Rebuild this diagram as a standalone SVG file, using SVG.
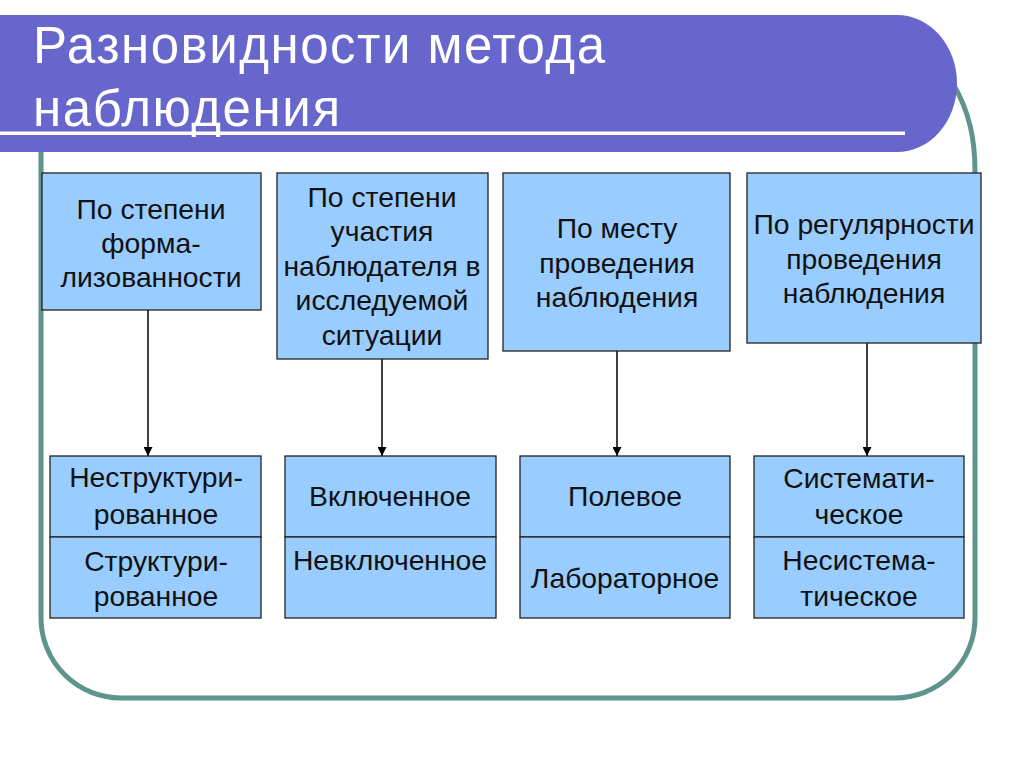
<svg xmlns="http://www.w3.org/2000/svg" width="1024" height="767" viewBox="0 0 1024 767">
<defs>
<marker id="ah" viewBox="0 0 10 10" refX="10" refY="5" markerWidth="9" markerHeight="9" markerUnits="userSpaceOnUse" orient="auto">
<path d="M0,0 L10,5 L0,10 Z" fill="#000"/>
</marker>
<style>
.box{fill:#99ccff;stroke:#222;stroke-width:1.3}
.t{font-family:"Liberation Sans",Arial,sans-serif;font-size:28.3px;fill:#111;text-anchor:middle}
.title{font-family:"Liberation Sans",Arial,sans-serif;font-size:51px;fill:#fff}
.conn{stroke:#000;stroke-width:1.5;fill:none;marker-end:url(#ah)}
</style>
</defs>
<rect width="1024" height="767" fill="#fff"/>
<g id="frame">
<path d="M41,140 V618 A80,80 0 0 0 121,698 H895 A80,80 0 0 0 975,618 V172 C975,140 970,112 952,82" fill="none" stroke="#5f948e" stroke-width="5"/>
</g>
<g id="banner">
<path d="M0,15 H897 A60,68.5 0 0 1 897,152 H0 Z" fill="#6666cc"/>
<rect x="0" y="131.5" width="905" height="3.5" fill="#fff"/>
<text class="title" x="33" y="63" textLength="572" lengthAdjust="spacing">Разновидности метода</text>
<text class="title" x="33" y="126" textLength="307" lengthAdjust="spacing">наблюдения</text>
</g>
<g id="connectors">
<line class="conn" x1="148" y1="310" x2="148" y2="456"/>
<line class="conn" x1="382" y1="359" x2="382" y2="456"/>
<line class="conn" x1="617" y1="351" x2="617" y2="456"/>
<line class="conn" x1="867" y1="343" x2="867" y2="456"/>
</g>
<g id="top1">
<rect class="box" x="42" y="173" width="219" height="137"/>
<text class="t" x="151" y="219">По степени</text>
<text class="t" x="151" y="253">форма-</text>
<text class="t" x="151" y="287">лизованности</text>
</g>
<g id="top2">
<rect class="box" x="277" y="173" width="211" height="186"/>
<text class="t" x="382" y="207">По степени</text>
<text class="t" x="382" y="241">участия</text>
<text class="t" x="382" y="276">наблюдателя в</text>
<text class="t" x="382" y="310">исследуемой</text>
<text class="t" x="382" y="345">ситуации</text>
</g>
<g id="top3">
<rect class="box" x="503" y="173" width="227" height="178"/>
<text class="t" x="617" y="238">По месту</text>
<text class="t" x="617" y="273">проведения</text>
<text class="t" x="617" y="307">наблюдения</text>
</g>
<g id="top4">
<rect class="box" x="747" y="173" width="234" height="170"/>
<text class="t" x="864" y="234">По регулярности</text>
<text class="t" x="864" y="269">проведения</text>
<text class="t" x="864" y="303">наблюдения</text>
</g>
<g id="bot1">
<rect class="box" x="50" y="456" width="211" height="81"/>
<rect class="box" x="50" y="537" width="211" height="81"/>
<text class="t" x="156" y="487">Неструктури-</text>
<text class="t" x="156" y="524">рованное</text>
<text class="t" x="156" y="571">Структури-</text>
<text class="t" x="156" y="606">рованное</text>
</g>
<g id="bot2">
<rect class="box" x="285" y="456" width="211" height="81"/>
<rect class="box" x="285" y="537" width="211" height="81"/>
<text class="t" x="390" y="506">Включенное</text>
<text class="t" x="390" y="570">Невключенное</text>
</g>
<g id="bot3">
<rect class="box" x="520" y="456" width="210" height="81"/>
<rect class="box" x="520" y="537" width="210" height="81"/>
<text class="t" x="625" y="506">Полевое</text>
<text class="t" x="625" y="588">Лабораторное</text>
</g>
<g id="bot4">
<rect class="box" x="754" y="456" width="210" height="81"/>
<rect class="box" x="754" y="537" width="210" height="81"/>
<text class="t" x="859" y="488">Системати-</text>
<text class="t" x="859" y="524">ческое</text>
<text class="t" x="859" y="570">Несистема-</text>
<text class="t" x="859" y="606">тическое</text>
</g>
</svg>
